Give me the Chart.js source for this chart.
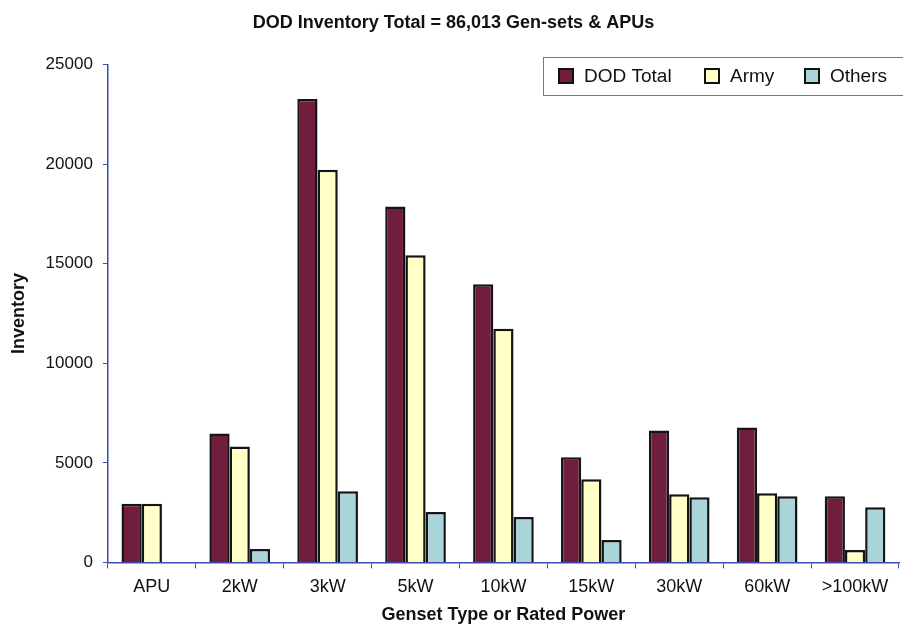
<!DOCTYPE html>
<html>
<head>
<meta charset="utf-8">
<script src="https://cdn.jsdelivr.net/npm/chart.js@4.4.1/dist/chart.umd.min.js"></script>
<style>
  html, body { margin: 0; padding: 0; background: #fff; }
  #wrap { width: 903px; height: 626px; }
</style>
</head>
<body>
<div id="wrap"><canvas id="bar_chart"></canvas></div>
<script>
// data
const categories  = ['APU', '2kW', '3kW', '5kW', '10kW', '15kW', '30kW', '60kW', '>100kW'];
const dodTotal    = [2950, 6475, 23275, 17875, 13975, 5275, 6625, 6775, 3325];
const army        = [2950, 5825, 19725, 15425, 11735, 4175, 3425, 3475, 625];
const others      = [0, 675, 3575, 2525, 2275, 1125, 3275, 3325, 2775];
const yTicks      = [0, 5000, 10000, 15000, 20000, 25000];

const axisColor = '#3c4ab4';
const fontFam   = '"Liberation Sans", Arial, sans-serif';

// legend box drawn inside the plot, like the original
const boxLegend = {
    id: 'boxLegend',
    afterDraw(chart) {
        const ctx = chart.ctx;
        ctx.save();
        ctx.strokeStyle = '#6a74b8';
        ctx.lineWidth = 1;
        ctx.strokeRect(543.5, 57.5, 380, 38);
        ctx.font = '19px ' + fontFam;
        ctx.textBaseline = 'middle';
        const xs = [559, 705, 805];
        chart.data.datasets.forEach((ds, i) => {
            ctx.fillStyle = ds.backgroundColor;
            ctx.fillRect(xs[i], 69, 14, 14);
            ctx.strokeStyle = '#111';
            ctx.lineWidth = 2;
            ctx.strokeRect(xs[i], 69, 14, 14);
            ctx.fillStyle = '#111';
            ctx.fillText(ds.label, xs[i] + 25, 77);
        });
        ctx.restore();
    }
};

const bar_chart = document.getElementById('bar_chart');

var bar_chart_ref = new Chart(bar_chart, {
    type: 'bar',
    data: {
        labels: categories,
        datasets: [
            { label: 'DOD Total', data: dodTotal, backgroundColor: '#6f1e3e' },
            { label: 'Army',      data: army,     backgroundColor: '#ffffc8' },
            { label: 'Others',    data: others,   backgroundColor: '#a9d4da' }
        ].map(d => Object.assign(d, {
            borderColor: '#151515',
            borderWidth: 2.5,
            borderSkipped: 'bottom',
            barPercentage: 1,
            categoryPercentage: 0.69
        }))
    },
    options: {
        responsive: true,
        maintainAspectRatio: false,
        animation: false,
        layout: { padding: { top: 8, right: 4, left: 8, bottom: 2 } },
        plugins: {
            legend: { display: false },
            tooltip: { enabled: false },
            title: {
                display: true,
                text: 'DOD Inventory Total = 86,013 Gen-sets & APUs',
                color: '#111',
                font: { family: fontFam, size: 18, weight: 'bold' },
                padding: { top: 4, bottom: 31 }
            }
        },
        scales: {
            x: {
                grid: { display: true, drawOnChartArea: false, color: axisColor, tickLength: 6, offset: true },
                border: { color: axisColor, width: 1.5 },
                ticks: { color: '#111', font: { family: fontFam, size: 18 }, padding: 8 },
                title: {
                    display: true,
                    text: 'Genset Type or Rated Power',
                    color: '#111',
                    font: { family: fontFam, size: 18, weight: 'bold', lineHeight: 1 },
                    padding: { top: 0, bottom: 0 }
                }
            },
            y: {
                min: 0,
                max: 25000,
                afterBuildTicks: axis => { axis.ticks = yTicks.map(v => ({ value: v })); },
                grid: { display: true, drawOnChartArea: false, color: axisColor, tickLength: 5 },
                border: { color: axisColor, width: 1.5 },
                ticks: { color: '#111', font: { family: fontFam, size: 17 }, padding: 10, callback: v => String(v) },
                title: {
                    display: true,
                    text: 'Inventory',
                    color: '#111',
                    font: { family: fontFam, size: 18, weight: 'bold' },
                    padding: { top: 0, bottom: 6 }
                }
            }
        }
    },
    plugins: [boxLegend]
});
</script>
</body>
</html>
